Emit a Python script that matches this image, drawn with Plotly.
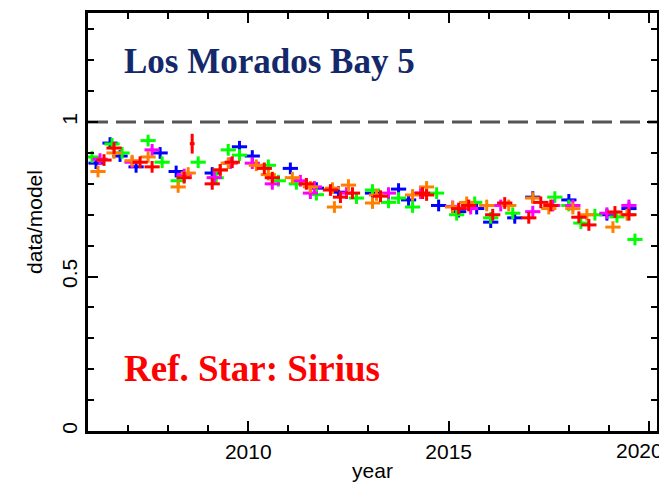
import plotly.graph_objects as go

# ---- data (year, data/model) per colour series ----
blue_x = [2006.2, 2006.55, 2006.8, 2007.2, 2007.8, 2008.2, 2009.1, 2009.78, 2010.1, 2011.05,
          2011.7, 2012.25, 2013.1, 2013.75, 2014.0, 2014.75, 2015.25, 2015.7, 2016.05, 2016.65,
          2017.1, 2018.0, 2018.95, 2019.5]
blue_y = [0.867, 0.932, 0.89, 0.855, 0.90, 0.84, 0.835, 0.92, 0.89, 0.85,
          0.786, 0.773, 0.77, 0.783, 0.748, 0.73, 0.71, 0.72, 0.676, 0.69,
          0.757, 0.748, 0.70, 0.72]

green_x = [2006.1, 2006.6, 2006.85, 2007.5, 2007.85, 2008.25, 2008.75, 2009.2, 2009.5, 2009.78,
           2010.5, 2010.75, 2011.2, 2011.7, 2012.7, 2013.1, 2013.5, 2013.75, 2014.1, 2014.7,
           2015.2, 2015.65, 2016.05, 2016.6, 2017.65, 2018.0, 2018.3, 2018.65, 2019.2, 2019.65]
green_y = [0.887, 0.929, 0.90, 0.94, 0.87, 0.81, 0.87, 0.82, 0.91, 0.893,
           0.86, 0.81, 0.80, 0.765, 0.754, 0.78, 0.74, 0.754, 0.725, 0.77,
           0.70, 0.74, 0.69, 0.705, 0.757, 0.73, 0.673, 0.70, 0.693, 0.62]

magenta_x = [2006.3, 2007.1, 2007.6, 2008.4, 2009.15, 2009.55, 2010.1, 2010.6, 2011.3, 2011.55,
             2011.65, 2012.45, 2013.5, 2014.3, 2015.1, 2015.55, 2016.3, 2017.1, 2017.6, 2018.1,
             2018.95, 2019.5]
magenta_y = [0.88, 0.87, 0.91, 0.83, 0.82, 0.867, 0.867, 0.80, 0.81, 0.77,
             0.79, 0.77, 0.77, 0.77, 0.727, 0.72, 0.73, 0.71, 0.73, 0.73,
             0.705, 0.73]

orange_x = [2006.25, 2006.65, 2007.1, 2007.5, 2008.25, 2008.5, 2009.3, 2009.5, 2010.2, 2010.5,
            2011.1, 2011.55, 2012.1, 2012.15, 2012.5, 2013.2, 2013.1, 2014.1, 2014.45, 2015.1,
            2015.45, 2015.95, 2016.5, 2017.1, 2017.5, 2018.1, 2018.45, 2019.1, 2019.45]
orange_y = [0.84, 0.90, 0.875, 0.887, 0.79, 0.835, 0.845, 0.867, 0.86, 0.83,
            0.82, 0.79, 0.786, 0.725, 0.796, 0.764, 0.738, 0.764, 0.79, 0.725,
            0.74, 0.73, 0.73, 0.754, 0.72, 0.72, 0.70, 0.66, 0.70]

red_x = [2006.4, 2006.65, 2007.3, 2007.6, 2008.6, 2008.4, 2009.1, 2009.3, 2009.6, 2010.4,
         2010.6, 2011.45, 2012.05, 2012.3, 2012.6, 2013.3, 2014.35, 2014.45, 2015.25, 2015.5,
         2016.1, 2016.4, 2017.0, 2017.3, 2017.55, 2018.25, 2018.5, 2019.15, 2019.5]
red_y = [0.877, 0.916, 0.87, 0.855, 0.93, 0.82, 0.80, 0.845, 0.87, 0.85,
         0.82, 0.80, 0.78, 0.757, 0.77, 0.76, 0.77, 0.764, 0.72, 0.73,
         0.70, 0.738, 0.69, 0.74, 0.73, 0.692, 0.667, 0.709, 0.70]
# per-point errors for the red series (one short, noisy bin)
red_ex = [0.19] * len(red_x)
red_ey = [0.019] * len(red_x)
red_ex[4] = 0.06
red_ey[4] = 0.032

x_tickvals = [2010, 2015, 2020]
x_ticktext = ["2010", "2015", ""]   # the last label is drawn as an annotation nudged inside the page
last_x_label = "2020"
y_tickvals = [0, 0.5, 1]
y_ticktext = ["0", "0.5", "1"]

series = [
    ("blue", blue_x, blue_y, "#0000ff"),
    ("green", green_x, green_y, "#00ff00"),
    ("magenta", magenta_x, magenta_y, "#ff00ff"),
    ("orange", orange_x, orange_y, "#ff8000"),
]

fig = go.Figure()
for name, xs, ys, col in series:
    fig.add_trace(go.Scatter(
        x=xs, y=ys, mode="markers", name=name,
        marker=dict(size=2, color=col),
        error_x=dict(type="constant", value=0.19, width=0, thickness=3, color=col),
        error_y=dict(type="constant", value=0.019, width=0, thickness=3, color=col),
        showlegend=False, hoverinfo="x+y"))
fig.add_trace(go.Scatter(
    x=red_x, y=red_y, mode="markers", name="red",
    marker=dict(size=2, color="#ff0000"),
    error_x=dict(type="data", array=red_ex, width=0, thickness=3, color="#ff0000"),
    error_y=dict(type="data", array=red_ey, width=0, thickness=3, color="#ff0000"),
    showlegend=False))

fig.add_hline(y=1, line=dict(color="#555555", width=3, dash="20px,8px"), layer="below")

fig.add_annotation(x=0.06, y=0.885, xref="paper", yref="paper", xanchor="left", yanchor="middle",
                   text="<b>Los Morados Bay 5</b>", showarrow=False,
                   font=dict(family="Liberation Serif", size=35, color="#13296b"))
fig.add_annotation(x=0.06, y=0.15, xref="paper", yref="paper", xanchor="left", yanchor="middle",
                   text="<b>Ref. Star: Sirius</b>", showarrow=False,
                   font=dict(family="Liberation Serif", size=37, color="#ff0000"))
fig.add_annotation(x=x_tickvals[-1], y=0, xref="x", yref="paper", xanchor="center", yanchor="middle",
                   xshift=-9, yshift=-19, text=last_x_label, showarrow=False,
                   font=dict(family="Liberation Sans", size=21, color="black"))

axis_common = dict(showline=True, linewidth=2.5, linecolor="black", mirror="ticks",
                   ticks="inside", ticklen=10, tickwidth=2, tickcolor="black",
                   showgrid=False, zeroline=False, automargin=False,
                   ticklabeloverflow="allow",
                   tickfont=dict(family="Liberation Sans", size=21, color="black"))

# page body keeps an 8px margin, so the figure is sized to the remaining window
fig.update_layout(
    width=659, height=474,
    margin=dict(l=80, r=10, t=5, b=51),
    paper_bgcolor="white", plot_bgcolor="white",
    xaxis=dict(range=[2006.0, 2020.2], tickvals=x_tickvals, ticktext=x_ticktext,
               minor=dict(ticks="inside", ticklen=6, tickwidth=2, tickcolor="black", dtick=1, tick0=2006),
               title=dict(text="year", font=dict(family="Liberation Sans", size=21, color="black"), standoff=2),
               **axis_common),
    yaxis=dict(range=[0, 1.353], tickvals=y_tickvals, ticktext=y_ticktext, tickangle=-90,
               minor=dict(ticks="inside", ticklen=6, tickwidth=2, tickcolor="black", dtick=0.1, tick0=0),
               title=dict(text="data/model", font=dict(family="Liberation Sans", size=21, color="black"), standoff=10),
               **axis_common),
)

fig.write_html("out.html")
